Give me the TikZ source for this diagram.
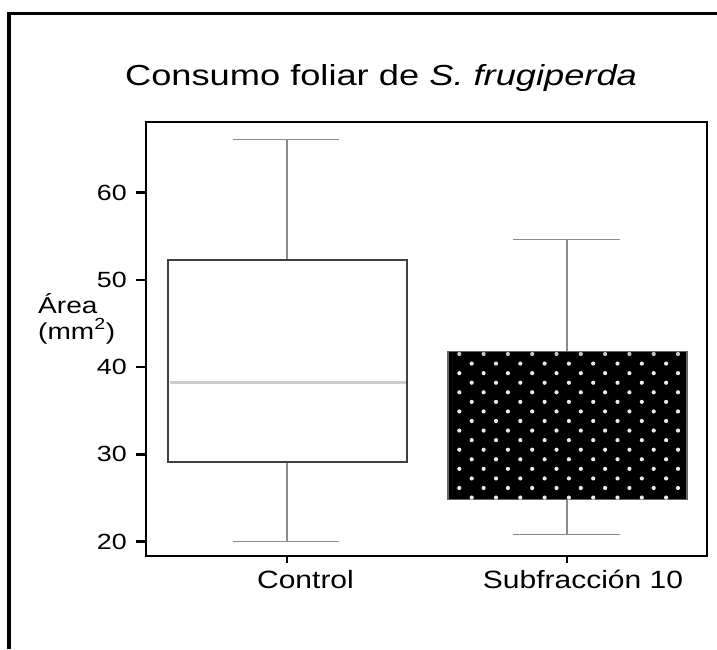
\documentclass[tikz,border=0pt]{standalone}
\usepackage{fontspec}
\setmainfont{Liberation Sans}
\usetikzlibrary{calc}
\tikzset{
  ticklab/.style={anchor=east,xscale=1.22,inner sep=0pt,font=\fontsize{22}{24}\selectfont},
  catlab/.style={anchor=base,xscale=1.2,inner sep=0pt,font=\fontsize{25}{28}\selectfont},
  ylab/.style={anchor=base west,xscale=1.22,inner sep=0pt,font=\fontsize{23}{26}\selectfont},
  whisk/.style={draw=black!45,line width=1.3pt},
  boxline/.style={draw=black!75,line width=2.5pt},
  dot/.style={fill=white!92!black}
}
\newcommand{\Y}[1]{{541.5-(#1-20)*8.72}}
\begin{document}
\begin{tikzpicture}[x=1pt,y=-1pt]
\useasboundingbox (0,0) rectangle (717,649);
\draw[line width=3.5pt] (9,649) -- (9,13.5) -- (717,13.5);
\node[anchor=base,xscale=1.25,inner sep=0pt,font=\fontsize{29}{32}\selectfont] (title) at (381,85) {Consumo foliar de \textit{S. frugiperda}};

\draw[whisk] (287,\Y{52.3}) -- (287,\Y{66.1});
\draw[whisk] (233,\Y{66.1}) -- (339,\Y{66.1});
\draw[whisk] (287,\Y{29.1}) -- (287,\Y{20});
\draw[whisk] (233,\Y{20}) -- (339,\Y{20});
\draw[boxline,fill=white] (168,\Y{52.3}) rectangle (407,\Y{29.1});
\draw[draw=black!20,line width=3pt] (169.5,\Y{38.2}) -- (405.5,\Y{38.2});

\draw[whisk] (567,\Y{41.8}) -- (567,\Y{54.6});
\draw[whisk] (513,\Y{54.6}) -- (620,\Y{54.6});
\draw[whisk] (567,\Y{24.8}) -- (567,\Y{20.8});
\draw[whisk] (513,\Y{20.8}) -- (620,\Y{20.8});
\draw[draw=black!60,fill=black,line width=1.5pt] (448,\Y{41.8}) rectangle (687,\Y{24.8});
\begin{scope}
\clip (448,\Y{41.8}) rectangle (687,\Y{24.8});
\foreach \j in {0,...,9}
  \fill[gray!45] (459.3+24.3*\j,354) circle (2.1);
\foreach \k in {2,4,...,14}
  \foreach \j in {0,...,9}
    \fill[dot] (459.3+24.3*\j,354+9.57*\k) circle (2.1);
\foreach \k in {1,3,...,15}
  \foreach \j in {0,...,8}
    \fill[dot] (471.7+24.3*\j,354+9.57*\k) circle (2.1);
\end{scope}

\draw[line width=2pt] (146,122) rectangle (707,556);
\foreach \v in {20,30,...,60}{
  \draw[line width=2.5pt] (136,\Y{\v}) -- (146,\Y{\v});
  \node[ticklab] (t\v) at (127,\Y{\v}) {\v};
}
\draw[line width=2.5pt] (287,556) -- (287,563);
\draw[line width=2.5pt] (567,556) -- (567,563);
\node[catlab] (ctrl) at (305.5,588) {Control};
\node[catlab] (subf) at (583,588) {Subfracción 10};
\node[ylab] (area) at (38,313) {Área};
\node[ylab] (unit) at (38,339) {(mm\textsuperscript{2})};
\end{tikzpicture}
\end{document}
